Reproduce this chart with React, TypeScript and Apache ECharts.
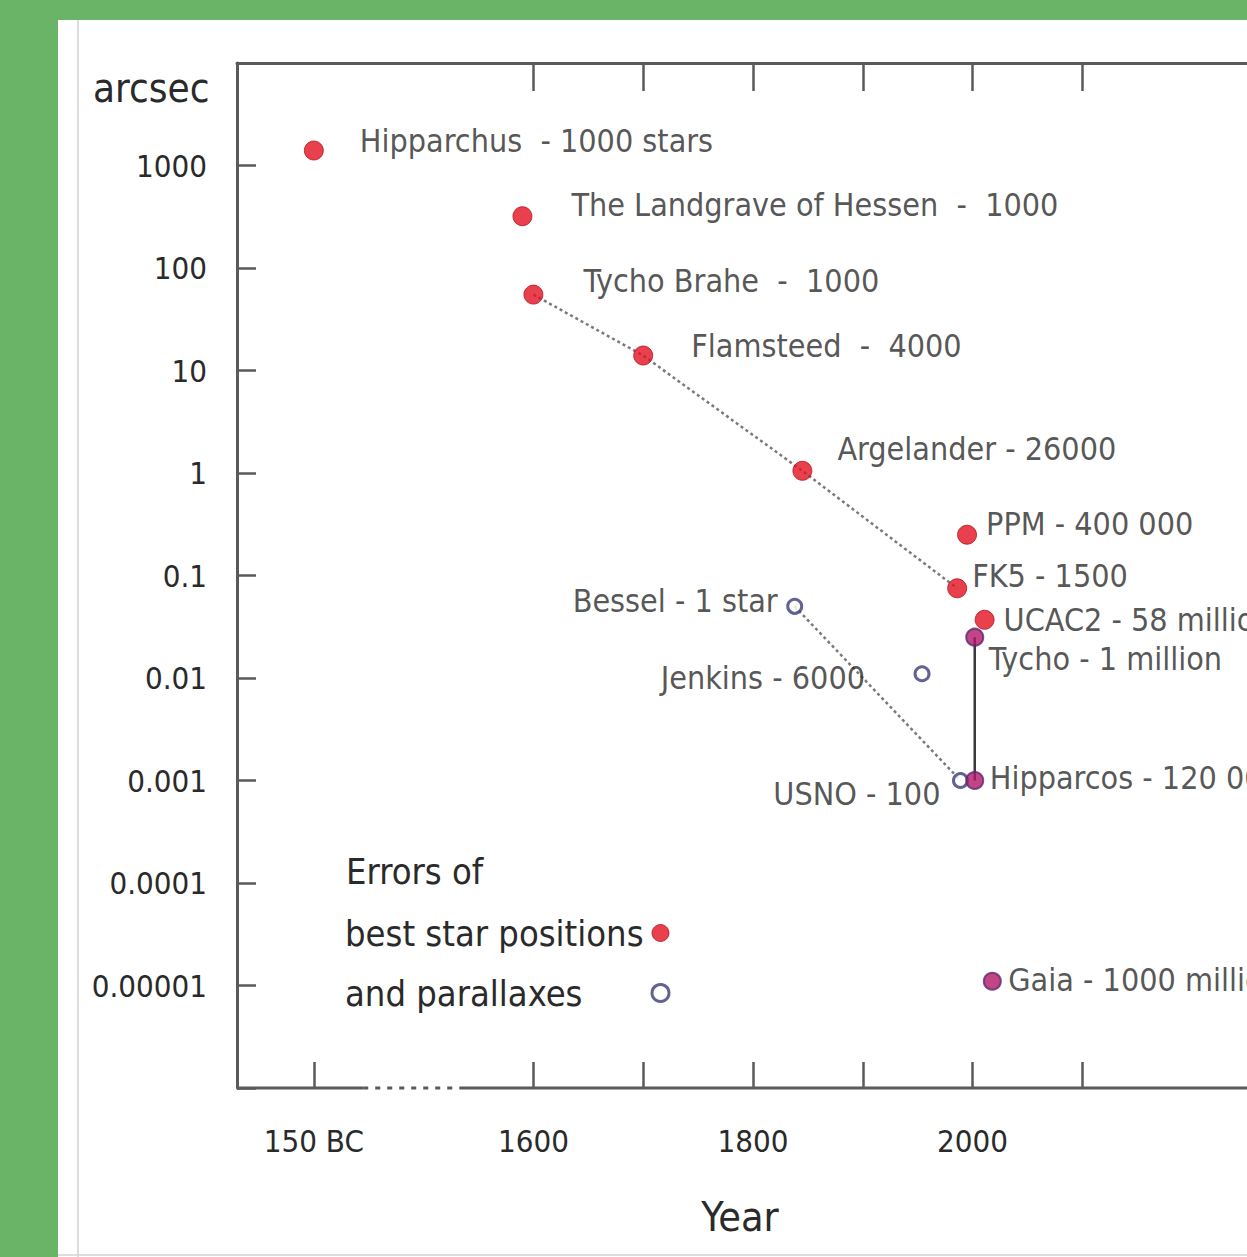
import React, { useEffect, useRef } from 'react';
import * as echarts from 'echarts';

// Year axis is compressed: "150 BC" is drawn at axis position 1400 (broken axis).
const positionNames = [
  'Hipparchus  - 1000 stars',
  'The Landgrave of Hessen  -  1000',
  'Tycho Brahe  -  1000',
  'Flamsteed  -  4000',
  'Argelander - 26000',
  'PPM - 400 000',
  'FK5 - 1500',
  'UCAC2 - 58 million',
];
const positionYears = [1400, 1590, 1600, 1700, 1845, 1995, 1986, 2011];
const positionErrors = [1400, 320, 55, 14, 1.05, 0.25, 0.075, 0.037];

const parallaxNames = ['Bessel - 1 star', 'Jenkins - 6000', 'USNO - 100'];
const parallaxYears = [1838, 1954, 1989];
const parallaxErrors = [0.05, 0.011, 0.001];

const spaceNames = ['Tycho - 1 million', 'Hipparcos - 120 000', 'Gaia - 1000 million'];
const spaceYears = [2002, 2002, 2018];
const spaceErrors = [0.025, 0.001, 0.000011];

const groundTrendIdx = [2, 3, 4, 6]; // Tycho Brahe -> Flamsteed -> Argelander -> FK5
const parallaxTrendIdx = [0, 2]; // Bessel -> USNO
const spaceLinkIdx = [0, 1]; // Tycho -> Hipparcos

const xRange = [1330, 2250];
const yRange = [1e-6, 1e4];
const xTickYears = [1400, 1600, 1700, 1800, 1900, 2000, 2100];
const topTickYears = [1600, 1700, 1800, 1900, 2000, 2100];
const xLabelYears = [1400, 1600, 1800, 2000];
const xLabelTexts = ['150 BC', '1600', '1800', '2000'];
const yTickLabels = ['0.00001', '0.0001', '0.001', '0.01', '0.1', '1', '10', '100', '1000'];
const axisBreakYears = [1445, 1533];

const legendNames = ['best star positions', 'and parallaxes'];

// label placement (style): [dx, dy, align]
const labelPlacement: Record<string, [number, number, string]> = {
  'Hipparchus  - 1000 stars': [46, -10, 'left'],
  'The Landgrave of Hessen  -  1000': [49, -11, 'left'],
  'Tycho Brahe  -  1000': [50, -14, 'left'],
  'Flamsteed  -  4000': [48, -10, 'left'],
  'Argelander - 26000': [35, -22, 'left'],
  'PPM - 400 000': [19, -11, 'left'],
  'FK5 - 1500': [15, -12, 'left'],
  'UCAC2 - 58 million': [19, 0, 'left'],
  'Tycho - 1 million': [14, 22, 'left'],
  'Hipparcos - 120 000': [15, -3, 'left'],
  'Gaia - 1000 million': [16, -1, 'left'],
  'Bessel - 1 star': [-17, -5, 'right'],
  'Jenkins - 6000': [-57, 4, 'right'],
  'USNO - 100': [-20, 13, 'right'],
};

const FONT = "'Liberation Sans Narrow', 'DejaVu Sans Condensed', 'Arial Narrow', sans-serif";
const TXT = '#2a2a2a';
const AXIS = '#5a5a5a';
const RED = '#e2101f';
const OPEN_EDGE = '#3b3b78';

function points(names: string[], years: number[], errs: number[]) {
  return names.map((n, i) => {
    const p = labelPlacement[n] || [10, 0, 'left'];
    return { name: n, value: [years[i], errs[i]], label: { align: p[2], offset: [p[0], p[1]] } };
  });
}

function pick(idx: number[], years: number[], errs: number[]) {
  return idx.map((i) => [years[i], errs[i]]);
}

const labelBase = {
  show: true,
  position: 'inside',
  formatter: '{b}',
  fontSize: 32,
  fontFamily: FONT,
  color: TXT,
  verticalAlign: 'middle',
};

function buildOption(): any {
  const yMin = yRange[0];
  return {
    animation: false,
    backgroundColor: '#ffffff',
    grid: { left: 179, top: 43, right: 0, bottom: 169 },
    legend: {
      data: [
        { name: legendNames[0], icon: 'circle', itemStyle: { color: RED, borderColor: '#b5121d', borderWidth: 1 } },
        { name: legendNames[1], icon: 'circle', itemStyle: { color: '#ffffff', borderColor: OPEN_EDGE, borderWidth: 3 } },
      ],
      orient: 'vertical',
      left: 282,
      top: 890,
      align: 'right',
      itemGap: 24,
      itemWidth: 17,
      itemHeight: 17,
      selectedMode: false,
      formatter: '{t|{name}}',
      textStyle: {
        rich: {
          t: { width: 302, align: 'left', fontSize: 36, fontFamily: FONT, color: TXT, lineHeight: 46 },
        },
      },
    },
    xAxis: [
      {
        type: 'value',
        min: xRange[0],
        max: xRange[1],
        position: 'bottom',
        splitLine: { show: false },
        axisLine: { show: false },
        axisTick: { show: true, inside: true, length: 26, customValues: xTickYears, lineStyle: { color: AXIS, width: 2.5 } },
        axisLabel: {
          show: true,
          customValues: xLabelYears,
          margin: 37,
          fontSize: 31,
          fontFamily: FONT,
          color: TXT,
          formatter: (v: number) => {
            const k = xLabelYears.indexOf(Math.round(v));
            return k >= 0 ? xLabelTexts[k] : '';
          },
        },
      },
      {
        type: 'value',
        min: xRange[0],
        max: xRange[1],
        position: 'top',
        splitLine: { show: false },
        axisLine: { show: true, lineStyle: { color: AXIS, width: 3 } },
        axisTick: { show: true, inside: true, length: 28, customValues: topTickYears, lineStyle: { color: AXIS, width: 2.5 } },
        axisLabel: { show: false },
      },
    ],
    yAxis: {
      type: 'log',
      logBase: 10,
      min: yRange[0],
      max: yRange[1],
      interval: 1,
      splitLine: { show: false },
      axisLine: { show: true, lineStyle: { color: AXIS, width: 3 } },
      axisTick: { show: true, inside: true, length: 19, lineStyle: { color: AXIS, width: 2.5 } },
      axisLabel: {
        margin: 30,
        fontSize: 31,
        fontFamily: FONT,
        color: TXT,
        formatter: (v: number) => {
          const e = Math.round(Math.log10(v));
          const k = e + 5;
          return k >= 0 && k < yTickLabels.length ? yTickLabels[k] : '';
        },
      },
    },
    graphic: [
      { type: 'line', shape: { x1: 20, y1: 0, x2: 20, y2: 1237 }, style: { stroke: '#d2d2d2', lineWidth: 1.5 }, silent: true },
      { type: 'line', shape: { x1: 0, y1: 1235, x2: 1189, y2: 1235 }, style: { stroke: '#d2d2d2', lineWidth: 1.5 }, silent: true },
      {
        type: 'text', x: 35, y: 68,
        style: { text: 'arcsec', fontSize: 40, fontFamily: FONT, fill: TXT, textAlign: 'left', textVerticalAlign: 'middle' },
        silent: true,
      },
      {
        type: 'text', x: 682, y: 1197,
        style: { text: 'Year', fontSize: 41, fontFamily: FONT, fill: TXT, textAlign: 'center', textVerticalAlign: 'middle' },
        silent: true,
      },
      {
        type: 'text', x: 288, y: 851,
        style: { text: 'Errors of', fontSize: 36, fontFamily: FONT, fill: TXT, textAlign: 'left', textVerticalAlign: 'middle' },
        silent: true,
      },
    ],
    series: [
      {
        name: 'axis-left',
        type: 'line',
        silent: true,
        clip: false,
        symbol: 'none',
        data: [[xRange[0], yMin], [axisBreakYears[0], yMin]],
        lineStyle: { color: AXIS, width: 3 },
        z: 1,
      },
      {
        name: 'axis-break',
        type: 'line',
        silent: true,
        clip: false,
        symbol: 'none',
        data: [[axisBreakYears[0], yMin], [axisBreakYears[1], yMin]],
        lineStyle: { color: AXIS, width: 3, type: [5, 7] },
        z: 1,
      },
      {
        name: 'axis-right',
        type: 'line',
        silent: true,
        clip: false,
        symbol: 'none',
        data: [[axisBreakYears[1], yMin], [xRange[1], yMin]],
        lineStyle: { color: AXIS, width: 3 },
        z: 1,
      },
      {
        name: 'ground-trend',
        type: 'line',
        silent: true,
        symbol: 'none',
        data: pick(groundTrendIdx, positionYears, positionErrors),
        lineStyle: { color: '#7a7a7a', width: 2.5, type: [3, 3] },
        z: 2,
      },
      {
        name: 'parallax-trend',
        type: 'line',
        silent: true,
        symbol: 'none',
        data: pick(parallaxTrendIdx, parallaxYears, parallaxErrors),
        lineStyle: { color: '#7a7a7a', width: 2.5, type: [3, 3] },
        z: 2,
      },
      {
        name: 'space-link',
        type: 'line',
        silent: true,
        symbol: 'none',
        data: pick(spaceLinkIdx, spaceYears, spaceErrors),
        lineStyle: { color: '#3a3a3a', width: 2.5 },
        z: 2,
      },
      {
        name: legendNames[0],
        type: 'scatter',
        silent: true,
        symbol: 'circle',
        symbolSize: 19,
        itemStyle: { color: RED, borderColor: '#b5121d', borderWidth: 1 },
        label: labelBase,
        data: points(positionNames, positionYears, positionErrors),
        z: 4,
      },
      {
        name: legendNames[1],
        type: 'scatter',
        silent: true,
        symbol: 'circle',
        symbolSize: 14,
        itemStyle: { color: '#ffffff', borderColor: OPEN_EDGE, borderWidth: 3 },
        label: labelBase,
        data: points(parallaxNames, parallaxYears, parallaxErrors),
        z: 4,
      },
      {
        name: 'space',
        type: 'scatter',
        silent: true,
        symbol: 'circle',
        symbolSize: 17,
        itemStyle: { color: '#b3166a', borderColor: '#5a2a70', borderWidth: 2 },
        label: labelBase,
        data: points(spaceNames, spaceYears, spaceErrors),
        z: 5,
      },
    ],
  };
}

export default function App() {
  const ref = useRef<HTMLDivElement>(null);
  useEffect(() => {
    if (!ref.current) return;
    const chart = echarts.init(ref.current, null, { renderer: 'svg' });
    chart.setOption(buildOption());
    return () => chart.dispose();
  }, []);
  return (
    <div
      style={{
        position: 'absolute',
        left: 0,
        top: 0,
        width: 1247,
        height: 1257,
        background: '#6ab468',
        overflow: 'hidden',
      }}
    >
      <div
        ref={ref}
        style={{ position: 'absolute', left: 58, top: 20, width: 1189, height: 1237, background: '#ffffff', overflow: 'hidden' }}
      />
    </div>
  );
}
